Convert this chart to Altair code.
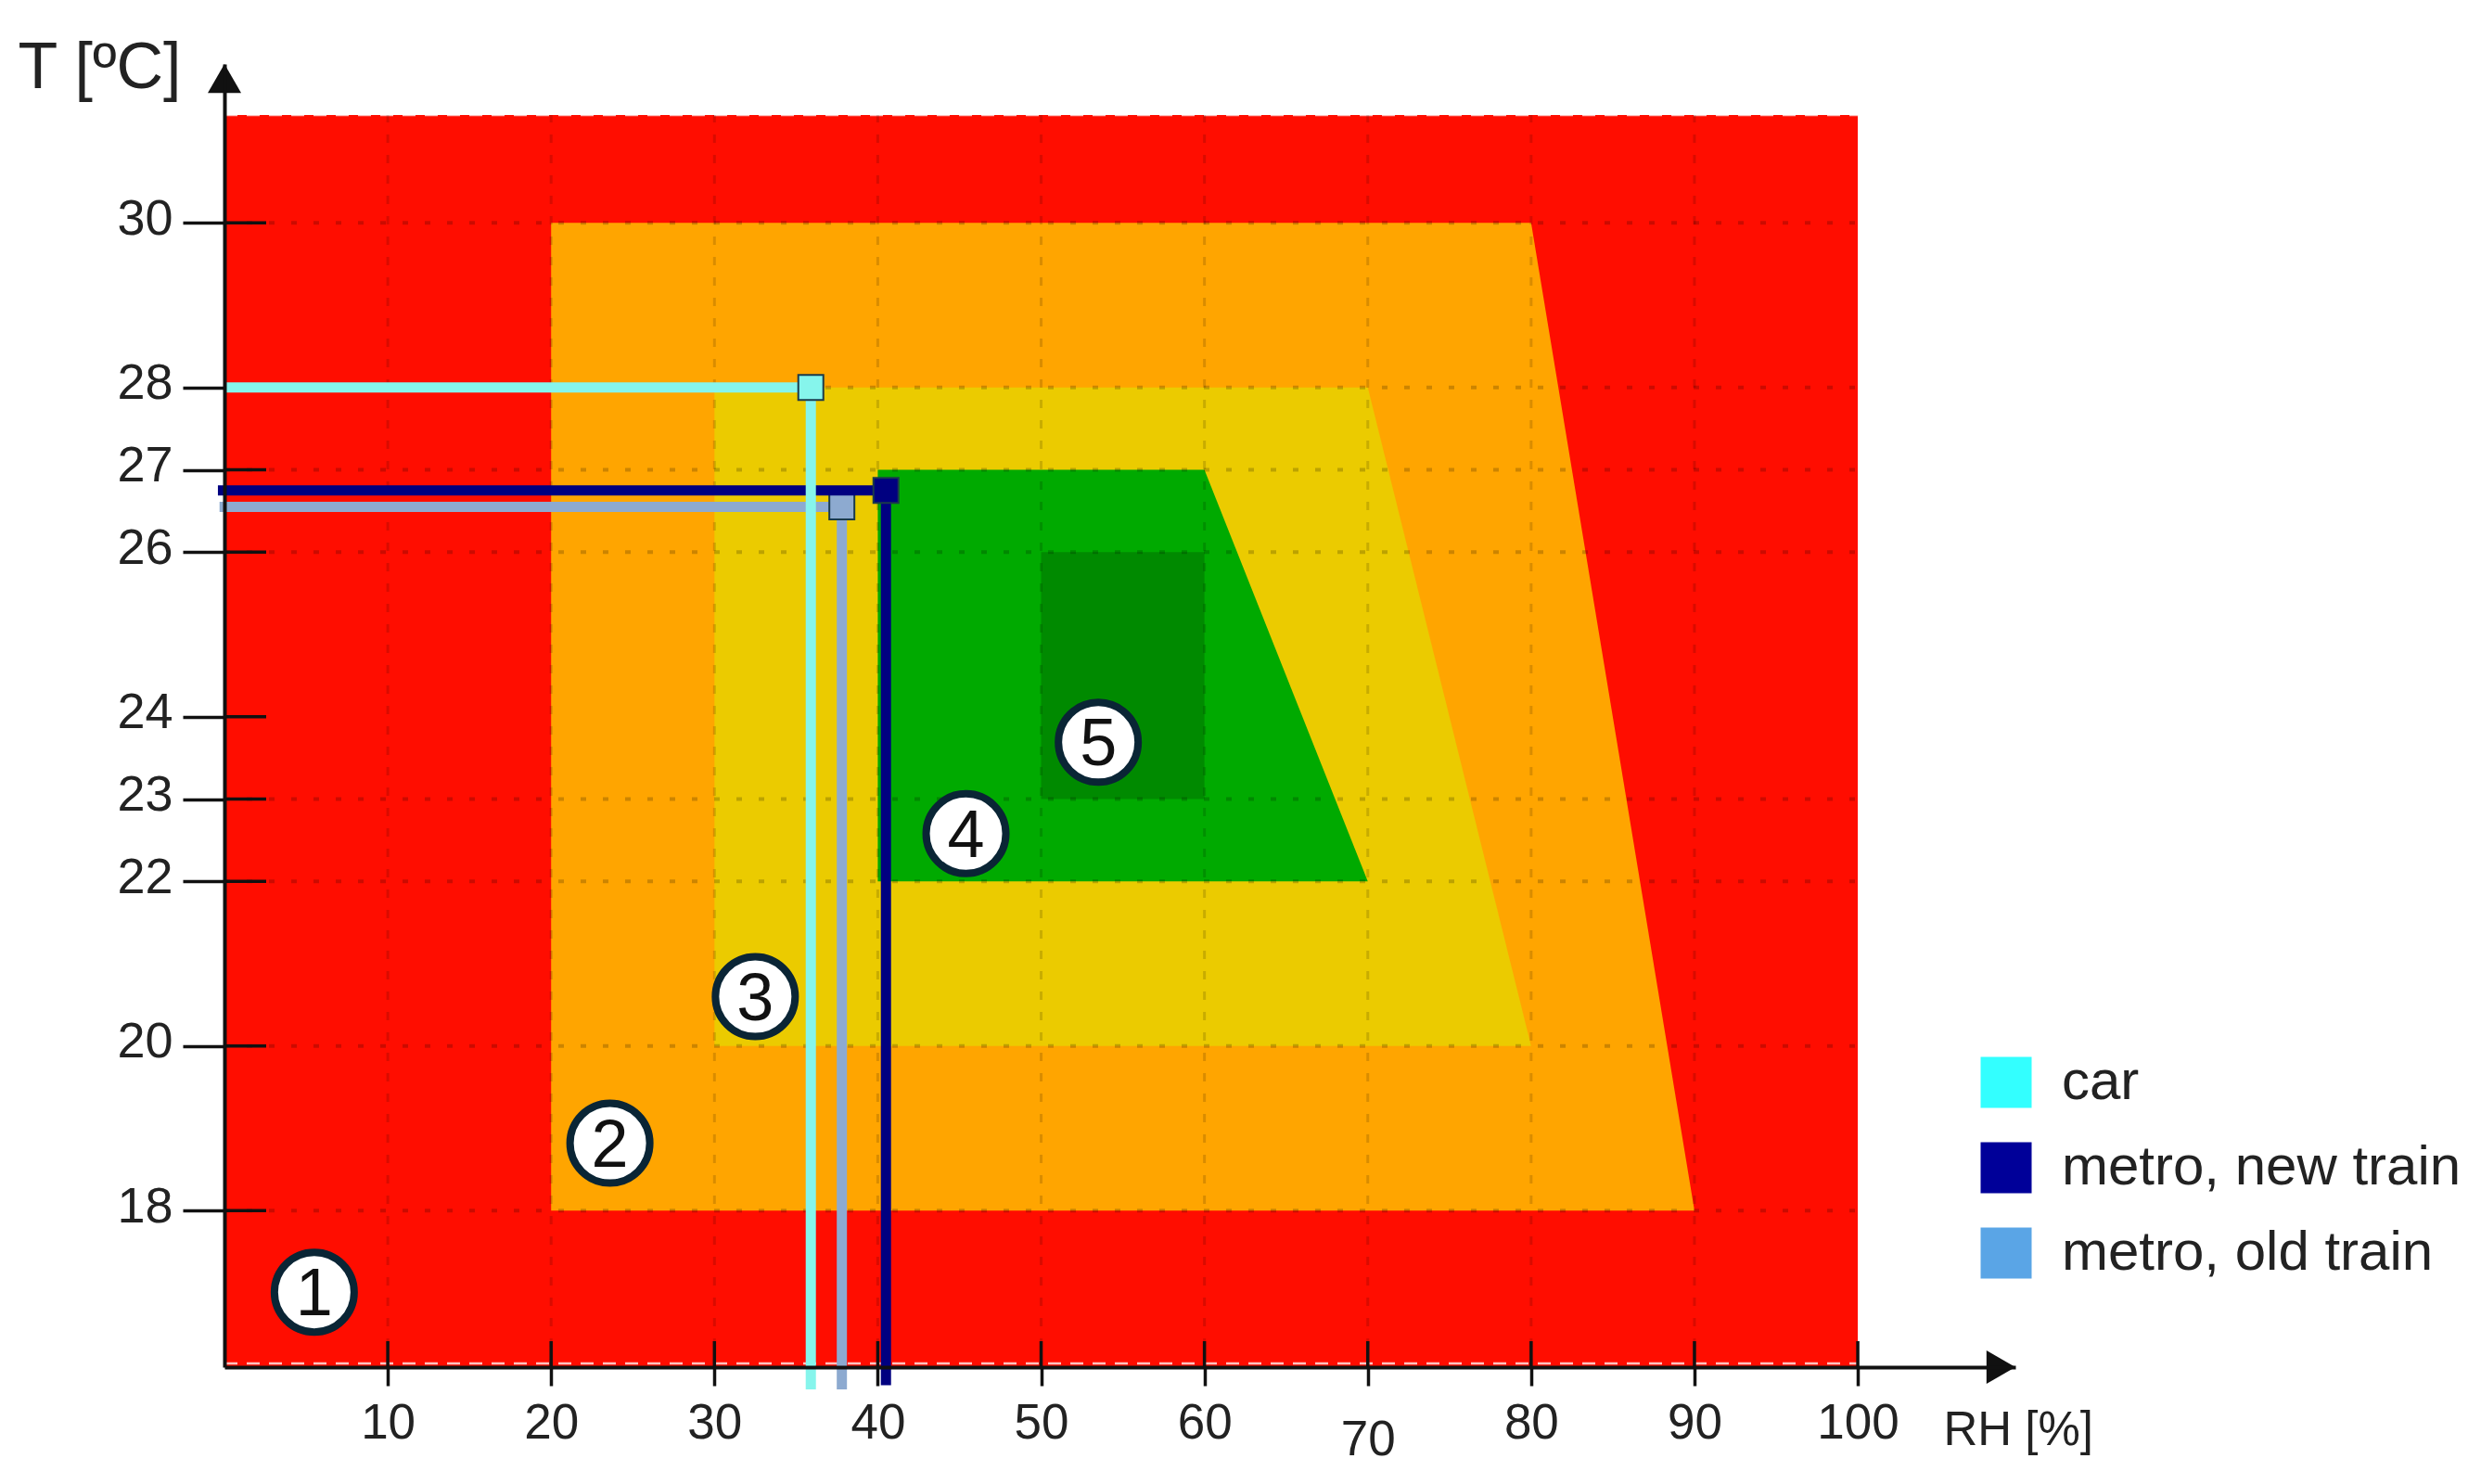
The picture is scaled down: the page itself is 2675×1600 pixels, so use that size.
import altair as alt
import pandas as pd

# ---------------- data ----------------
RH_DOMAIN = [0, 109.65]
T_DOMAIN = [16.1, 31.93]

rh_ticks = [10, 20, 30, 40, 50, 60, 70, 80, 90, 100]
t_ticks = [18, 20, 22, 23, 24, 26, 27, 28, 30]
grid_rh = [10, 20, 30, 40, 50, 60, 70, 80, 90]
grid_t = [18, 20, 22, 23, 26, 27, 28, 30]

zone_names = ["1", "2", "3", "4", "5"]
zone_colors = ["#FF0D00", "#FFA500", "#EBCB00", "#00AA00", "#008A00"]
zone_t_top = [31.31, 30, 28, 27, 26]
zone_t_bottom = [16.1, 18, 20, 22, 23]
zone_rh_left = [0, 20, 30, 40, 50]
zone_rh_right_top = [100, 80, 70, 60, 60]
zone_rh_right_bottom = [100, 90, 80, 70, 60]

series = ["car", "metro, new train", "metro, old train"]
series_rh = [35.9, 40.5, 37.8]
series_t = [28.0, 26.75, 26.55]
series_line_start = [0, -0.4, -0.3]
series_line_end_t = [15.83, 15.88, 15.83]
series_line_colors = ["#86F5EC", "#000080", "#8DAAD0"]
series_swatch_colors = ["#33FFFF", "#000099", "#5AA5E6"]
draw_order = [2, 1, 0]

circle_labels = ["1", "2", "3", "4", "5"]
circle_rh = [5.5, 23.6, 32.5, 45.4, 53.5]
circle_t = [17.01, 18.82, 20.6, 22.58, 23.69]

# ---------------- style ----------------
FONT = "Liberation Sans"
TXT = "#222222"
AX = "#111111"
W, H = 1931, 1405

xs = alt.Scale(domain=RH_DOMAIN, nice=False, zero=False)
ys = alt.Scale(domain=T_DOMAIN, nice=False, zero=False)

x_axis = alt.Axis(
    values=rh_ticks, title="RH [%]", titleX=1853, titleY=68, titleAlign="left",
    titleBaseline="middle", titleFontSize=51, titleFont=FONT, titleFontWeight="normal",
    titleColor=TXT, labelFontSize=53, labelFont=FONT, labelColor=TXT,
    labelPadding={"condition": {"test": "datum.value == 70", "value": 32}, "value": 14},
    tickSize=20, tickWidth=3.5, tickColor=AX, domainColor=AX, domainWidth=4,
    grid=False, zindex=1, labelFlush=False, labelOverlap=False,
)
y_axis = alt.Axis(
    values=t_ticks, title="T [ºC]", titleAngle=0, titleX=-135, titleY=4,
    titleAlign="center", titleBaseline="middle", titleFontSize=70, titleFont=FONT,
    titleFontWeight="normal", titleColor=TXT, labelFontSize=54, labelFont=FONT,
    labelColor=TXT, labelPadding=11, labelOffset=-4, tickSize=45, tickWidth=3.5,
    tickColor=AX, domainColor=AX, domainWidth=4, grid=False, zindex=1,
    labelFlush=False, labelOverlap=False,
)


def X(f):
    return alt.X(f, scale=xs, axis=x_axis)


def Y(f):
    return alt.Y(f, scale=ys, axis=y_axis)


layers = []

# zones
for i, name in enumerate(zone_names):
    zdf = pd.DataFrame({
        "t": [zone_t_top[i], zone_t_bottom[i]],
        "left": [zone_rh_left[i], zone_rh_left[i]],
        "right": [zone_rh_right_top[i], zone_rh_right_bottom[i]],
    })
    layers.append(
        alt.Chart(zdf).mark_area(orient="horizontal", color=zone_colors[i], opacity=1)
        .encode(y=Y("t:Q"), x=X("right:Q"), x2="left:Q")
    )

# red border dashes
edge_df = pd.DataFrame({"t": [zone_t_top[0]], "a": [zone_rh_left[0]], "b": [zone_rh_right_top[0]]})
layers.append(
    alt.Chart(edge_df).mark_rule(color="white", strokeWidth=2.5, strokeDash=[14, 10], opacity=0.75)
    .encode(y=Y("t:Q"), x=X("a:Q"), x2="b:Q")
)
edge_df2 = pd.DataFrame({"t": [zone_t_bottom[0]], "a": [zone_rh_left[0]], "b": [zone_rh_right_bottom[0]]})
layers.append(
    alt.Chart(edge_df2).mark_rule(color="white", strokeWidth=2.5, strokeDash=[14, 10], opacity=0.75, yOffset=-4)
    .encode(y=Y("t:Q"), x=X("a:Q"), x2="b:Q")
)

# dotted grid
gh = pd.DataFrame({"t": grid_t, "a": zone_rh_left[0], "b": zone_rh_right_top[0]})
layers.append(
    alt.Chart(gh).mark_rule(color="black", strokeWidth=4, strokeDash=[6, 18], opacity=0.2)
    .encode(y=Y("t:Q"), x=X("a:Q"), x2="b:Q")
)
gv = pd.DataFrame({"rh": grid_rh, "a": zone_t_bottom[0], "b": zone_t_top[0]})
layers.append(
    alt.Chart(gv).mark_rule(color="black", strokeWidth=3, strokeDash=[9, 13], opacity=0.15)
    .encode(x=X("rh:Q"), y=Y("a:Q"), y2="b:Q")
)

# inner tick halves
layers.append(
    alt.Chart(pd.DataFrame({"rh": rh_ticks})).mark_rule(color=AX, strokeWidth=3.5)
    .encode(x=X("rh:Q"), y=alt.value(H - 28), y2=alt.value(H))
)
layers.append(
    alt.Chart(pd.DataFrame({"t": t_ticks})).mark_rule(color=AX, strokeWidth=3.5)
    .encode(y=Y("t:Q"), x=alt.value(0), x2=alt.value(45))
)

# series lines and markers
for i in draw_order:
    sdf = pd.DataFrame({
        "rh": [series_rh[i]], "t": [series_t[i]],
        "start": [series_line_start[i]], "end": [series_line_end_t[i]],
    })
    c = series_line_colors[i]
    layers.append(
        alt.Chart(sdf).mark_rule(color=c, strokeWidth=11)
        .encode(y=Y("t:Q"), x=X("start:Q"), x2="rh:Q")
    )
    layers.append(
        alt.Chart(sdf).mark_rule(color=c, strokeWidth=11)
        .encode(x=X("rh:Q"), y=Y("t:Q"), y2="end:Q")
    )
    layers.append(
        alt.Chart(sdf).mark_point(shape="square", filled=True, fill=c, stroke="#1b3b4b",
                                  strokeWidth=2, size=729, opacity=1)
        .encode(x=X("rh:Q"), y=Y("t:Q"))
    )

# legend (from swatch colours)
ldf = pd.DataFrame({"series": series, "rh": series_rh, "t": series_t})
layers.append(
    alt.Chart(ldf).mark_square(opacity=0, size=10)
    .encode(
        x=X("rh:Q"), y=Y("t:Q"),
        color=alt.Color("series:N", scale=alt.Scale(domain=series, range=series_swatch_colors),
                        legend=alt.Legend(orient="none", legendX=1891, legendY=1068, title=None,
                                          labelFont=FONT, labelFontSize=60, labelColor=TXT,
                                          symbolType="square", symbolSize=3025, symbolOpacity=1,
                                          symbolStrokeWidth=0, rowPadding=32, labelOffset=30,
                                          padding=0, labelLimit=0)),
    )
)

# circled zone numbers
cdf = pd.DataFrame({"label": circle_labels, "rh": circle_rh, "t": circle_t})
layers.append(
    alt.Chart(cdf).mark_circle(size=7396, color="white", opacity=1, stroke="#0a2535", strokeWidth=8)
    .encode(x=X("rh:Q"), y=Y("t:Q"))
)
layers.append(
    alt.Chart(cdf).mark_text(font=FONT, fontSize=72, color="#111111", align="center", baseline="middle", dy=3)
    .encode(x=X("rh:Q"), y=Y("t:Q"), text="label:N")
)

# axis arrowheads
adf = pd.DataFrame({"rh": [RH_DOMAIN[0]], "t": [T_DOMAIN[1]]})
layers.append(
    alt.Chart(adf).mark_point(shape="triangle-up", filled=True, color=AX, size=1296, opacity=1, yOffset=15.6)
    .encode(x=X("rh:Q"), y=Y("t:Q"))
)
adf2 = pd.DataFrame({"rh": [RH_DOMAIN[1]], "t": [T_DOMAIN[0]]})
layers.append(
    alt.Chart(adf2).mark_point(shape="triangle-right", filled=True, color=AX, size=1296, opacity=1, xOffset=-15.6)
    .encode(x=X("rh:Q"), y=Y("t:Q"))
)

chart = (
    alt.layer(*layers)
    .properties(width=W, height=H,
                padding={"left": 234, "top": 61, "right": 490, "bottom": 110},
                autosize=alt.AutoSizeParams(type="none"))
    .configure_view(stroke=None)
)

chart.save("out.html", embed_options={"renderer": "svg", "actions": False})
